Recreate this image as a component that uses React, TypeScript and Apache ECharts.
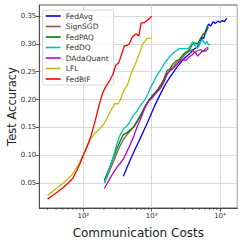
import React, { useEffect, useRef } from "react";
import * as echarts from "echarts";

const seriesNames = ["FedAvg", "SignSGD", "FedPAQ", "FedDQ", "DAdaQuant", "LFL", "FedBIF"];
const seriesColors = ["#0000ff", "#8c564b", "#008000", "#00bfbf", "#bf00bf", "#bfbf00", "#ff0000"];

const fedAvgX = [385, 430, 480, 540, 610, 690, 780, 880, 990, 1120, 1260, 1420, 1600, 1800, 2050, 2300, 2600, 2900, 3250, 3650, 4100, 4600, 5100, 5500, 5800, 6100, 6400, 6800, 7300, 7900, 8600, 9300, 10000, 10800, 11600, 12500];
const fedAvgY = [0.062, 0.076, 0.090, 0.104, 0.118, 0.132, 0.146, 0.160, 0.175, 0.190, 0.203, 0.216, 0.228, 0.238, 0.248, 0.257, 0.265, 0.272, 0.278, 0.283, 0.290, 0.294, 0.302, 0.312, 0.310, 0.322, 0.328, 0.336, 0.332, 0.340, 0.337, 0.341, 0.339, 0.342, 0.340, 0.346];

const midX = [203, 225, 250, 280, 310, 345, 385, 430, 480, 540, 600, 670, 750, 830, 920, 1020, 1130, 1250, 1380, 1520, 1680, 1850, 2050, 2300, 2550, 2850, 3150, 3500, 3900, 4300, 4700, 5200, 5700, 6200, 6750];
const signSgdY = [0.050, 0.062, 0.076, 0.090, 0.104, 0.117, 0.128, 0.136, 0.143, 0.150, 0.160, 0.170, 0.181, 0.192, 0.200, 0.206, 0.213, 0.220, 0.228, 0.236, 0.246, 0.252, 0.258, 0.266, 0.270, 0.276, 0.282, 0.286, 0.290, 0.284, 0.288, 0.290, 0.286, 0.292, 0.294];
const fedPaqY = [0.055, 0.068, 0.082, 0.098, 0.112, 0.125, 0.137, 0.140, 0.145, 0.150, 0.158, 0.168, 0.180, 0.190, 0.199, 0.207, 0.212, 0.218, 0.226, 0.238, 0.252, 0.255, 0.264, 0.270, 0.272, 0.280, 0.285, 0.288, 0.298, 0.302, 0.300, 0.310, 0.318, 0.320, 0.331];
const dAdaQuantY = [0.040, 0.050, 0.060, 0.070, 0.078, 0.085, 0.093, 0.105, 0.118, 0.132, 0.148, 0.162, 0.177, 0.190, 0.198, 0.203, 0.210, 0.216, 0.222, 0.232, 0.246, 0.252, 0.256, 0.262, 0.268, 0.272, 0.270, 0.276, 0.280, 0.286, 0.278, 0.284, 0.288, 0.287, 0.292];

const fedDqX = [203, 225, 250, 280, 310, 345, 390, 430, 480, 540, 600, 660, 720, 800, 880, 950, 1050, 1150, 1260, 1400, 1550, 1700, 1900, 2100, 2300, 2550, 2800, 3100, 3400, 3700, 4000, 4300, 4600, 4900, 5200, 5500, 5800, 6100, 6400, 6800, 7200];
const fedDqY = [0.050, 0.065, 0.082, 0.101, 0.120, 0.136, 0.148, 0.152, 0.160, 0.172, 0.178, 0.186, 0.193, 0.200, 0.210, 0.220, 0.230, 0.240, 0.248, 0.256, 0.266, 0.272, 0.279, 0.284, 0.288, 0.292, 0.291, 0.292, 0.291, 0.297, 0.304, 0.298, 0.292, 0.296, 0.304, 0.308, 0.303, 0.300, 0.305, 0.298, 0.300];

const lflX = [30, 35, 40, 50, 60, 70, 85, 100, 115, 130, 150, 175, 200, 230, 260, 290, 320, 350, 380, 410, 440, 480, 520, 570, 620, 680, 740, 800, 860, 930, 1000];
const lflY = [0.028, 0.034, 0.040, 0.049, 0.058, 0.066, 0.083, 0.100, 0.118, 0.130, 0.140, 0.148, 0.156, 0.170, 0.183, 0.193, 0.192, 0.200, 0.212, 0.221, 0.225, 0.240, 0.252, 0.262, 0.274, 0.287, 0.300, 0.305, 0.310, 0.310, 0.310];

const fedBifX = [30, 35, 40, 45, 50, 60, 70, 80, 90, 100, 115, 130, 150, 170, 190, 210, 240, 270, 300, 330, 360, 400, 430, 470, 520, 560, 600, 650, 700, 780, 850, 920, 1000];
const fedBifY = [0.021, 0.027, 0.032, 0.037, 0.041, 0.050, 0.058, 0.072, 0.086, 0.100, 0.117, 0.135, 0.163, 0.190, 0.210, 0.222, 0.233, 0.245, 0.262, 0.266, 0.280, 0.297, 0.297, 0.300, 0.312, 0.316, 0.318, 0.314, 0.338, 0.338, 0.342, 0.345, 0.350];

const seriesX = [fedAvgX, midX, midX, fedDqX, midX, lflX, fedBifX];
const seriesY = [fedAvgY, signSgdY, fedPaqY, fedDqY, dAdaQuantY, lflY, fedBifY];

const xMin = 22.7;
const xMax = 17900;
const yMin = 0.005;
const yMax = 0.37;
const yTicks = [0.05, 0.1, 0.15, 0.2, 0.25, 0.3, 0.35];
const minorTickValues = [30, 40, 50, 60, 70, 80, 90, 200, 300, 400, 500, 600, 700, 800, 900, 2000, 3000, 4000, 5000, 6000, 7000, 8000, 9000];

const supers: Record<string, string> = { "1": "\u00b9", "2": "\u00b2", "3": "\u00b3", "4": "\u2074", "5": "\u2075" };

export default function App() {
  const ref = useRef<HTMLDivElement>(null);
  useEffect(() => {
    if (!ref.current) return;
    const chart = echarts.init(ref.current, null, { renderer: "svg" });
    const font = "DejaVu Sans";
    const lineSeries = seriesNames.map((name, i) => ({
      name,
      type: "line",
      data: seriesX[i].map((x, j) => [x, seriesY[i][j]]),
      symbol: "none",
      lineStyle: { color: seriesColors[i], width: 1.3 },
      itemStyle: { color: seriesColors[i] },
      z: 3 + i,
    }));
    chart.setOption({
      animation: false,
      backgroundColor: "#ffffff",
      grid: {
        left: 39.3,
        right: 4.7,
        top: 5,
        bottom: 34,
        show: true,
        borderColor: "#333333",
        borderWidth: 0.8,
        containLabel: false,
        outerBoundsMode: "none",
      },
      legend: {
        orient: "vertical",
        left: 42.7,
        top: 10,
        padding: [2, 5, 2, 3],
        itemWidth: 15,
        itemHeight: 7,
        itemGap: 2.5,
        backgroundColor: "rgba(255,255,255,0.85)",
        borderColor: "#cccccc",
        borderWidth: 0.8,
        borderRadius: 2,
        textStyle: { fontFamily: font, fontSize: 7.5, color: "#333333" },
        data: seriesNames.map((n) => ({ name: n, icon: "path://M0,0 L15,0 L15,1.6 L0,1.6 Z" })),
      },
      xAxis: {
        type: "log",
        logBase: 10,
        min: xMin,
        max: xMax,
        name: "Communication Costs",
        nameLocation: "middle",
        nameGap: 19,
        nameMoveOverlap: false,
        nameTextStyle: { fontFamily: font, fontSize: 12, color: "#222222" },
        axisLine: { show: true, lineStyle: { color: "#333333", width: 0.8 } },
        axisTick: { show: true, length: 3.5, lineStyle: { color: "#333333", width: 0.8 } },
        axisLabel: {
          fontFamily: font,
          fontSize: 7,
          color: "#333333",
          margin: 4,
          showMinLabel: false,
          showMaxLabel: false,
          formatter: (v: number) => {
            const e = Math.log10(v);
            if (Math.abs(e - Math.round(e)) > 1e-6) return "";
            return "10" + (supers[String(Math.round(e))] || "");
          },
        },
        splitLine: { show: true, lineStyle: { color: "#cfcfcf", width: 0.8 } },
      },
      yAxis: {
        type: "value",
        min: yMin,
        max: yMax,
        name: "Test Accuracy",
        nameLocation: "middle",
        nameGap: 21,
        nameMoveOverlap: false,
        nameTextStyle: { fontFamily: font, fontSize: 11.5, color: "#222222" },
        axisLine: { show: true, lineStyle: { color: "#333333", width: 0.8 } },
        axisTick: { show: true, length: 3.5, customValues: yTicks, lineStyle: { color: "#333333", width: 0.8 } },
        axisLabel: {
          fontFamily: font,
          fontSize: 7,
          color: "#333333",
          margin: 3,
          customValues: yTicks,
          formatter: (v: number) => v.toFixed(2),
        },
        splitLine: { show: true, lineStyle: { color: "#cfcfcf", width: 0.8 } },
      },
      series: [
        ...lineSeries,
        {
          name: "minorTicks",
          type: "custom",
          silent: true,
          clip: false,
          data: minorTickValues.map((v) => [v, yMin]),
          renderItem: (_params: any, api: any) => {
            const p = api.coord([api.value(0), yMin]);
            return {
              type: "line",
              shape: { x1: p[0], y1: p[1], x2: p[0], y2: p[1] + 2 },
              style: { stroke: "#333333", lineWidth: 0.6 },
            };
          },
        },
      ],
    });
    return () => chart.dispose();
  }, []);
  return <div ref={ref} style={{ position: "fixed", left: 0, top: 0, width: 242, height: 242 }} />;
}
